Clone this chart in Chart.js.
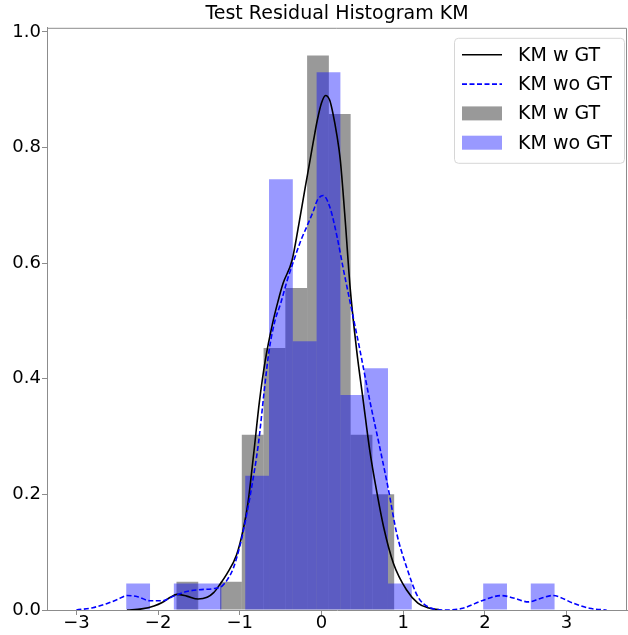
<!DOCTYPE html>
<html>
<head>
<meta charset="utf-8">
<script src="https://cdn.jsdelivr.net/npm/chart.js@4.4.0/dist/chart.umd.min.js"></script>
<style>
  html, body { margin: 0; padding: 0; background: #fff; }
  #wrap { width: 628px; height: 635px; }
</style>
</head>
<body>
<div id="wrap"><canvas id="histChart" width="628" height="635"></canvas></div>
<script>
const chartTitle = 'Test Residual Histogram KM';
const xTicks = [-3, -2, -1, 0, 1, 2, 3];
const yTicks = [0, 0.2, 0.4, 0.6, 0.8, 1.0];

// histogram bins (edges) and density heights
const grayEdges = [-1.775, -1.5085, -1.242, -0.9755, -0.709, -0.4425, -0.176, 0.0905, 0.357, 0.6235, 0.890];
const grayDensity = [0.049, 0, 0.049, 0.303, 0.453, 0.557, 0.959, 0.858, 0.303, 0.200];

const blueEdges = [-2.390, -2.0987, -1.8074, -1.5161, -1.2248, -0.9335, -0.6422, -0.3509, -0.0596, 0.2317,
                   0.523, 0.8143, 1.1056, 1.3969, 1.6882, 1.9795, 2.2708, 2.5621, 2.8534];
const blueDensity = [0.046, 0, 0.046, 0.046, 0, 0.232, 0.745, 0.465, 0.930, 0.372,
                     0.418, 0.046, 0, 0, 0, 0.046, 0, 0.046];

// kde curves
const kdeWithX = [-2.38, -2.2, -2.05, -1.95, -1.85, -1.77, -1.65, -1.51, -1.4, -1.32, -1.24, -1.16, -1.04, -0.96,
                  -0.9, -0.83, -0.76, -0.69, -0.6, -0.53, -0.47, -0.36, -0.28, -0.2, -0.15, -0.1, -0.05, 0.0, 0.05, 0.1,
                  0.14, 0.19, 0.23, 0.29, 0.35, 0.43, 0.51, 0.59, 0.68, 0.76, 0.88, 1.04, 1.18, 1.3, 1.45];
const kdeWithY = [0, 0.002, 0.007, 0.013, 0.022, 0.027, 0.024, 0.019, 0.022, 0.03, 0.045, 0.062, 0.095, 0.138,
                  0.185, 0.27, 0.36, 0.43, 0.495, 0.535, 0.565, 0.605, 0.665, 0.73, 0.77, 0.81, 0.848, 0.877, 0.89, 0.882,
                  0.859, 0.82, 0.779, 0.675, 0.559, 0.45, 0.363, 0.277, 0.202, 0.144, 0.081, 0.035, 0.012, 0.004, 0];

const kdeWithoutX = [-3.0, -2.8, -2.63, -2.5, -2.38, -2.25, -2.1, -1.95, -1.81, -1.65, -1.5, -1.32, -1.22, -1.15,
                     -1.08, -1.0, -0.955, -0.87, -0.77, -0.7, -0.64, -0.57, -0.5, -0.42, -0.35, -0.25, -0.18, -0.1, -0.05,
                     0.02, 0.1, 0.19, 0.27, 0.37, 0.47, 0.59, 0.72, 0.82, 0.92, 1.04, 1.18, 1.33, 1.53, 1.73, 1.98,
                     2.2, 2.37, 2.53, 2.68, 2.83, 3.08, 3.28, 3.49];
const kdeWithoutY = [0, 0.004, 0.011, 0.018, 0.025, 0.023, 0.016, 0.016, 0.024, 0.032, 0.035, 0.037, 0.041, 0.053,
                     0.072, 0.11, 0.138, 0.2, 0.29, 0.38, 0.45, 0.5, 0.53, 0.57, 0.6, 0.64, 0.663, 0.69, 0.709,
                     0.717, 0.698, 0.646, 0.588, 0.519, 0.45, 0.363, 0.277, 0.208, 0.133, 0.075, 0.023, 0.004, 0, 0.003, 0.017,
                     0.025, 0.02, 0.014, 0.02, 0.025, 0.012, 0.003, 0];

const xMin = -3.36, xMax = 3.74;
const yMax = 1.007;
const spineColor = '#8c8c8c';

function binPoints(edges, heights) {
    return heights.map((h, i) => ({ x: (edges[i] + edges[i + 1]) / 2, y: h }));
}
function curvePoints(xs, ys) {
    return xs.map((x, i) => ({ x: x, y: ys[i] }));
}

Chart.defaults.font.family = '"DejaVu Sans", sans-serif';
Chart.defaults.color = '#000';

// top/right spines like matplotlib's axes frame
const frame = {
    id: 'frame',
    afterDatasetsDraw(chart) {
        const { ctx, chartArea: a } = chart;
        ctx.save();
        ctx.strokeStyle = spineColor;
        ctx.lineWidth = 1;
        ctx.beginPath();
        ctx.moveTo(a.left, a.top + 0.5);
        ctx.lineTo(a.right - 0.5, a.top + 0.5);
        ctx.lineTo(a.right - 0.5, a.bottom);
        ctx.stroke();
        ctx.restore();
    }
};

// legend box inside the plot, upper right
const boxLegend = {
    id: 'boxLegend',
    afterDraw(chart) {
        const { ctx, chartArea } = chart;
        const w = 170, h = 125;
        const left = chartArea.right - w - 3, top = chartArea.top + 10;
        ctx.save();
        ctx.beginPath();
        if (ctx.roundRect) ctx.roundRect(left + 0.5, top + 0.5, w, h, 4);
        else ctx.rect(left + 0.5, top + 0.5, w, h);
        ctx.fillStyle = 'rgba(255,255,255,0.8)';
        ctx.fill();
        ctx.strokeStyle = '#d6d6d6';
        ctx.lineWidth = 1;
        ctx.stroke();
        ctx.font = '19px "DejaVu Sans"';
        ctx.textBaseline = 'middle';
        chart.data.datasets.forEach((ds, i) => {
            const cy = top + 17 + i * 29.3;
            const hx = left + 8;
            if (ds.type === 'line') {
                ctx.strokeStyle = ds.borderColor;
                ctx.lineWidth = ds.borderWidth;
                ctx.setLineDash(ds.borderDash || []);
                ctx.beginPath();
                ctx.moveTo(hx, cy);
                ctx.lineTo(hx + 40, cy);
                ctx.stroke();
                ctx.setLineDash([]);
            } else {
                ctx.fillStyle = ds.backgroundColor;
                ctx.fillRect(hx, cy - 7, 40, 14);
            }
            ctx.fillStyle = '#000';
            ctx.fillText(ds.label, left + 64, cy + 1);
        });
        ctx.restore();
    }
};

const ctx = document.getElementById('histChart').getContext('2d');
new Chart(ctx, {
    type: 'bar',
    data: {
        datasets: [
            {
                type: 'line',
                label: 'KM w GT',
                data: curvePoints(kdeWithX, kdeWithY),
                borderColor: '#000000',
                borderWidth: 1.6,
                pointRadius: 0,
                fill: false,
                cubicInterpolationMode: 'monotone',
                order: 2
            },
            {
                type: 'line',
                label: 'KM wo GT',
                data: curvePoints(kdeWithoutX, kdeWithoutY),
                borderColor: '#0000ff',
                borderWidth: 1.6,
                borderDash: [5, 2.5],
                pointRadius: 0,
                fill: false,
                cubicInterpolationMode: 'monotone',
                order: 1
            },
            {
                type: 'bar',
                label: 'KM w GT',
                data: binPoints(grayEdges, grayDensity),
                backgroundColor: 'rgba(0,0,0,0.4)',
                borderWidth: 0,
                inflateAmount: 0,
                stack: 'hist',
                barThickness: 'flex',
                barPercentage: 1,
                categoryPercentage: 1,
                order: 4
            },
            {
                type: 'bar',
                label: 'KM wo GT',
                data: binPoints(blueEdges, blueDensity),
                backgroundColor: 'rgba(0,0,255,0.4)',
                borderWidth: 0,
                inflateAmount: 0,
                stack: 'hist',
                barThickness: 'flex',
                barPercentage: 1,
                categoryPercentage: 1,
                order: 3
            }
        ]
    },
    options: {
        responsive: false,
        animation: false,
        devicePixelRatio: 1,
        layout: { padding: { left: 0, right: 1, top: 0, bottom: 0 } },
        plugins: {
            legend: { display: false },
            tooltip: { enabled: false },
            title: {
                display: true,
                text: chartTitle,
                fullSize: false,
                color: '#000',
                font: { size: 19, weight: 'normal' },
                padding: { top: 3, bottom: 2 }
            }
        },
        scales: {
            x: {
                type: 'linear',
                position: 'bottom',
                min: xMin,
                max: xMax,
                offset: false,
                afterBuildTicks: (scale) => { scale.ticks = xTicks.map(v => ({ value: v })); },
                afterFit: (scale) => { scale.height = 25; },
                ticks: {
                    font: { size: 18, lineHeight: 1 },
                    padding: -1,
                    maxRotation: 0,
                    autoSkip: false,
                    callback: (v) => (v < 0 ? '\u2212' + Math.abs(v) : String(v))
                },
                grid: { drawOnChartArea: false, offset: false, tickLength: 5, color: spineColor },
                border: { color: spineColor, width: 1 }
            },
            y: {
                type: 'linear',
                stacked: false,
                min: 0,
                max: yMax,
                afterBuildTicks: (scale) => { scale.ticks = yTicks.map(v => ({ value: v })); },
                afterFit: (scale) => { scale.width = 47; },
                ticks: {
                    font: { size: 18 },
                    padding: 1,
                    callback: (v) => v.toFixed(1)
                },
                grid: { drawOnChartArea: false, tickLength: 5, color: spineColor },
                border: { color: spineColor, width: 1 }
            }
        }
    },
    plugins: [frame, boxLegend]
});
</script>
</body>
</html>
